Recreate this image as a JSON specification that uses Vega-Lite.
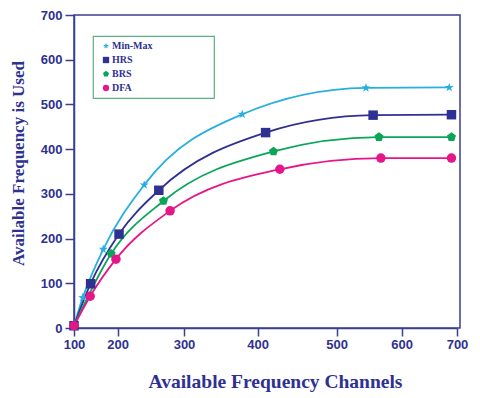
{
  "$schema": "https://vega.github.io/schema/vega-lite/v6.json",
  "autosize": {"type": "none"},
  "padding": {"left": 74, "top": 15, "right": 20, "bottom": 70},
  "width": 386,
  "height": 313,
  "background": "white",
  "config": {
    "view": {"stroke": "#3b3f8f", "strokeWidth": 1.5},
    "axis": {
      "grid": false,
      "domainColor": "#3b3f8f",
      "domainWidth": 1.5,
      "tickColor": "#3b3f8f",
      "tickWidth": 1.5,
      "tickSize": 8,
      "labelFont": "Liberation Sans",
      "labelFontWeight": "bold",
      "labelFontSize": 13,
      "labelColor": "#2e3192",
      "titleFont": "Liberation Serif",
      "titleFontWeight": "bold",
      "titleColor": "#2e3192"
    },
    "legend": {
      "orient": "none",
      "legendX": 19,
      "legendY": 21,
      "strokeColor": "#5fae86",
      "strokeWidth": 1.2,
      "padding": 5,
      "symbolOffset": 3,
      "labelOffset": 1,
      "labelFont": "Liberation Serif",
      "labelFontWeight": "bold",
      "labelFontSize": 10,
      "labelColor": "#2e3192",
      "labelLimit": 300,
      "rowPadding": 4,
      "symbolSize": 40,
      "symbolStrokeWidth": 0
    }
  },
  "data": {
    "values": [
      {"series": "Min-Max", "x": 100, "y": 5},
      {"series": "Min-Max", "x": 120, "y": 68},
      {"series": "Min-Max", "x": 167, "y": 176},
      {"series": "Min-Max", "x": 240, "y": 320},
      {"series": "Min-Max", "x": 379, "y": 478},
      {"series": "Min-Max", "x": 545, "y": 537},
      {"series": "Min-Max", "x": 686, "y": 538},
      {"series": "HRS", "x": 100, "y": 5},
      {"series": "HRS", "x": 138, "y": 99},
      {"series": "HRS", "x": 202, "y": 210},
      {"series": "HRS", "x": 262, "y": 308},
      {"series": "HRS", "x": 410, "y": 437},
      {"series": "HRS", "x": 556, "y": 476},
      {"series": "HRS", "x": 690, "y": 477},
      {"series": "BRS", "x": 100, "y": 5},
      {"series": "BRS", "x": 185, "y": 166},
      {"series": "BRS", "x": 269, "y": 284},
      {"series": "BRS", "x": 420, "y": 395},
      {"series": "BRS", "x": 565, "y": 427},
      {"series": "BRS", "x": 690, "y": 427},
      {"series": "DFA", "x": 100, "y": 5},
      {"series": "DFA", "x": 137, "y": 71},
      {"series": "DFA", "x": 196, "y": 154},
      {"series": "DFA", "x": 279, "y": 262},
      {"series": "DFA", "x": 428, "y": 355},
      {"series": "DFA", "x": 568, "y": 380},
      {"series": "DFA", "x": 690, "y": 380}
    ]
  },
  "encoding": {
    "x": {
      "field": "x",
      "type": "quantitative",
      "scale": {
        "domain": [100, 200, 300, 400, 500, 600, 700],
        "range": [0, 43.7, 110, 183.7, 262.7, 327.7, 383],
        "nice": false,
        "zero": false
      },
      "axis": {
        "values": [100, 200, 300, 400, 500, 600, 700],
        "title": "Available Frequency Channels",
        "titleFontSize": 19.5,
        "titlePadding": 21,
        "titleX": 201,
        "labelPadding": 2,
        "labelFlush": false
      }
    },
    "y": {
      "field": "y",
      "type": "quantitative",
      "scale": {"domain": [0, 700], "nice": false},
      "axis": {
        "values": [0, 100, 200, 300, 400, 500, 600, 700],
        "title": "Available Frequency is Used",
        "titleFontSize": 17,
        "titleX": -47,
        "titleY": 148,
        "tickSize": 9,
        "labelPadding": 3
      }
    },
    "color": {
      "field": "series",
      "type": "nominal",
      "scale": {
        "domain": ["Min-Max", "HRS", "BRS", "DFA"],
        "range": ["#29aee0", "#2e3192", "#0ba55a", "#e6168a"]
      },
      "legend": {"title": null, "labelExpr": "datum.label + '\u2800\u2800\u2800\u2800\u2800\u2800\u2800\u2800'"}
    }
  },
  "layer": [
    {
      "mark": {"type": "line", "interpolate": "monotone", "strokeWidth": 1.8},
      "encoding": {"detail": {"field": "series"}}
    },
    {
      "mark": {"type": "point", "filled": true, "opacity": 1, "size": 90},
      "encoding": {
        "shape": {
          "field": "series",
          "type": "nominal",
          "scale": {
            "domain": ["Min-Max", "HRS", "BRS", "DFA"],
            "range": ["M0,-1L0.235,-0.324L0.951,-0.309L0.38,0.124L0.588,0.809L0,0.4L-0.588,0.809L-0.38,0.124L-0.951,-0.309L-0.235,-0.324Z", "square", "M0,-1L0.95,-0.31L0.59,0.81L-0.59,0.81L-0.95,-0.31Z", "circle"]
          },
          "legend": {"title": null, "labelExpr": "datum.label + '\u2800\u2800\u2800\u2800\u2800\u2800\u2800\u2800'"}
        }
      }
    }
  ]
}
